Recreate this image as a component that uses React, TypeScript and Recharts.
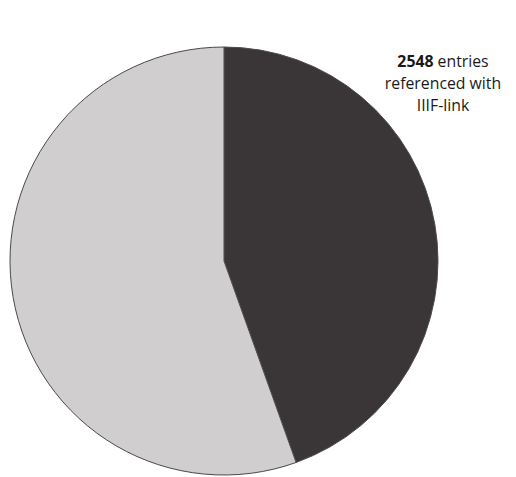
import { PieChart, Pie, Cell } from 'recharts'

const labels = ['referenced with IIIF-link', 'other entries']
const values = [2548, 3174]
const colors = ['#3a3637', '#d0cecf']

const data = labels.map((name, i) => ({ name, value: values[i] }))

export default function App() {
  return (
    <div style={{ position: 'absolute', left: 0, top: 0, width: 516, height: 477, background: '#fff' }}>
      <PieChart width={516} height={477} margin={{ top: 0, right: 0, bottom: 0, left: 0 }}>
        <Pie
          data={data}
          dataKey="value"
          nameKey="name"
          cx={224}
          cy={261}
          outerRadius={214}
          startAngle={90}
          endAngle={-270}
          stroke="#4a4a4a"
          strokeWidth={1}
          isAnimationActive={false}
        >
          {data.map((d, i) => <Cell key={d.name} fill={colors[i]} />)}
        </Pie>
      </PieChart>
      <div style={{
        position: 'absolute', left: 375, top: 50, width: 136, textAlign: 'center',
        fontFamily: '"Open Sans", sans-serif', fontSize: 15.8, lineHeight: '22px', color: '#1a1a1a',
      }}>
        <b>{values[0]}</b> entries<br />referenced with<br />IIIF-link
      </div>
    </div>
  )
}
